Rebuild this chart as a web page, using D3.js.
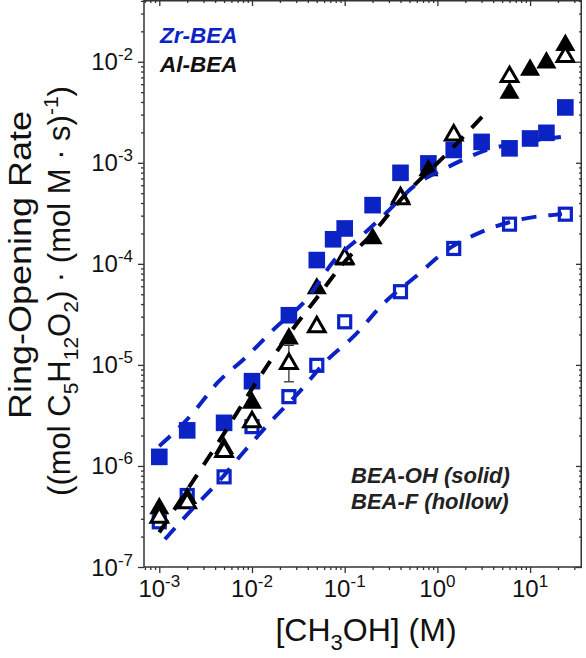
<!DOCTYPE html>
<html><head><meta charset="utf-8">
<script src="https://cdn.jsdelivr.net/npm/d3@7"></script>
<style>html,body{margin:0;padding:0;background:#fff}svg{display:block}text{font-family:"Liberation Sans",Arial,sans-serif}</style>
</head><body><div id="chart"></div>
<script>
// ---- data ----
const xMajorTicks = [1e-3, 1e-2, 1e-1, 1, 10];
const xTickExps = ["-3", "-2", "-1", "0", "1"];
const yMajorTicks = [1e-7, 1e-6, 1e-5, 1e-4, 1e-3, 1e-2];
const yTickExps = ["-7", "-6", "-5", "-4", "-3", "-2"];

// Zr-BEA, BEA-OH (solid squares)
const zrOH_x = [0.001, 0.002, 0.005, 0.01, 0.025, 0.05, 0.075, 0.1, 0.2, 0.4, 0.8, 1.5, 3, 6, 10, 15, 24];
const zrOH_y = [1.23e-6, 2.25e-6, 2.67e-6, 6.9e-6, 3.1e-5, 1.09e-4, 1.75e-4, 2.24e-4, 3.81e-4, 7.96e-4, 9.86e-4, 1.34e-3, 1.61e-3, 1.39e-3, 1.74e-3, 1.98e-3, 3.53e-3];
// Zr-BEA, BEA-F (hollow squares)
const zrF_x = [0.001, 0.002, 0.005, 0.01, 0.025, 0.05, 0.1, 0.4, 1.5, 6, 24];
const zrF_y = [2.8e-7, 5.1e-7, 7.8e-7, 2.45e-6, 4.85e-6, 9.9e-6, 2.67e-5, 5.3e-5, 1.42e-4, 2.47e-4, 3.1e-4];
// Al-BEA, BEA-OH (solid triangles)
const alOH_x = [0.001, 0.002, 0.005, 0.01, 0.025, 0.05, 0.1, 0.2, 0.4, 0.8, 6, 10, 15, 24];
const alOH_y = [3.8e-7, 4.8e-7, 1.5e-6, 4.2e-6, 1.82e-5, 5.7e-5, 1.1e-4, 1.78e-4, 4.6e-4, 8.4e-4, 4.9e-3, 8.3e-3, 9.8e-3, 1.46e-2];
// Al-BEA, BEA-F (hollow triangles)
const alF_x = [0.001, 0.002, 0.005, 0.01, 0.025, 0.05, 0.1, 0.4, 1.5, 6, 24];
const alF_y = [3.1e-7, 4.3e-7, 1.38e-6, 2.73e-6, 1.03e-5, 2.38e-5, 1.13e-4, 4.4e-4, 1.88e-3, 7.1e-3, 1.12e-2];
const alF_errLow = [null, null, null, null, 6.8e-6, null, null, null, null, null, null];
const alF_errHigh = [null, null, null, null, 1.56e-5, null, null, null, null, null, null];

// fitted curves (dashed)
const fitZrOH_x = [0.001, 0.0022, 0.0043, 0.0086, 0.0177, 0.0373, 0.0826, 0.135, 0.272, 0.575, 1.3, 3.43, 7.4, 21.5];
const fitZrOH_y = [1.57e-6, 3.18e-6, 6.74e-6, 1.19e-5, 2.31e-5, 4.27e-5, 1.16e-4, 1.72e-4, 3.1e-4, 6.0e-4, 9.07e-4, 1.34e-3, 1.57e-3, 1.8e-3];
const fitZrF_x = [0.00115, 0.0022, 0.0043, 0.00845, 0.0164, 0.033, 0.0612, 0.129, 0.272, 0.575, 1.27, 2.95, 8.18, 22.1];
const fitZrF_y = [1.88e-7, 3.64e-7, 6.9e-7, 1.43e-6, 2.83e-6, 5.5e-6, 1.06e-5, 1.97e-5, 4.18e-5, 7.4e-5, 1.37e-4, 2.06e-4, 2.77e-4, 3.1e-4];
const fitAl_x = [0.001, 0.002, 0.005, 0.01, 0.025, 0.05, 0.1, 0.2, 0.4, 1.4, 3.2];
const fitAl_y = [2.2e-7, 5.8e-7, 2.1e-6, 5.8e-6, 2.0e-5, 4.6e-5, 1.05e-4, 2.0e-4, 4.3e-4, 1.35e-3, 3.0e-3];

const legendLabels = ["Zr-BEA", "Al-BEA"];
const noteLabels = ["BEA-OH (solid)", "BEA-F (hollow)"];

// ---- drawing ----
const W = 586, H = 658;
const blue = "#0b22c4";
const axisColor = "#333";
const L = 144, R = 582, T = 0, B = 567;

const svg = d3.select("#chart").append("svg").attr("width", W).attr("height", H);

const x = d3.scaleLog().domain([Math.pow(10, -3.165), Math.pow(10, 1.56)]).range([L, R]);
const y = d3.scaleLog().domain([1e-7, Math.pow(10, -1.389)]).range([B, T]);

function minorTicks(lo, hi) {
  const out = [];
  for (let e = Math.floor(Math.log10(lo)) - 1; e <= Math.ceil(Math.log10(hi)); e++) {
    for (let m = 2; m <= 9; m++) {
      const v = m * Math.pow(10, e);
      if (v >= lo && v <= hi) out.push(v);
    }
  }
  return out;
}
const [xlo, xhi] = x.domain();
const [ylo, yhi] = y.domain();
const xMinor = minorTicks(xlo, xhi);
const yMinor = minorTicks(ylo, yhi);

svg.append("g").attr("transform", `translate(0,${B})`)
  .call(d3.axisBottom(x).tickValues(xMajorTicks).tickSize(6).tickFormat(""));
svg.append("g").attr("transform", `translate(0,${B})`)
  .call(d3.axisBottom(x).tickValues(xMinor).tickSize(3).tickFormat(""));
svg.append("g").attr("transform", `translate(0,${T})`)
  .call(d3.axisBottom(x).tickValues(xMajorTicks).tickSize(6).tickFormat(""));
svg.append("g").attr("transform", `translate(0,${T})`)
  .call(d3.axisBottom(x).tickValues(xMinor).tickSize(3).tickFormat(""));
svg.append("g").attr("transform", `translate(${L},0)`)
  .call(d3.axisLeft(y).tickValues(yMajorTicks).tickSize(6).tickFormat(""));
svg.append("g").attr("transform", `translate(${L},0)`)
  .call(d3.axisLeft(y).tickValues(yMinor).tickSize(3).tickFormat(""));
svg.append("g").attr("transform", `translate(${R},0)`)
  .call(d3.axisLeft(y).tickValues(yMajorTicks).tickSize(6).tickFormat(""));
svg.append("g").attr("transform", `translate(${R},0)`)
  .call(d3.axisLeft(y).tickValues(yMinor).tickSize(3).tickFormat(""));

svg.selectAll(".domain").remove();
svg.selectAll(".tick line").attr("stroke", axisColor).attr("stroke-width", 1.3);

svg.append("rect").attr("x", L).attr("y", T + 0.75).attr("width", R - L - 0.75).attr("height", B - T - 0.75)
  .attr("fill", "none").attr("stroke", axisColor).attr("stroke-width", 1.5);

// tick labels
const xl = svg.append("g").attr("font-size", 24).attr("fill", "#111");
xMajorTicks.forEach((v, i) => {
  const t = xl.append("text").attr("x", x(v)).attr("y", 597).attr("text-anchor", "middle");
  t.append("tspan").text("10");
  t.append("tspan").attr("dy", -10).attr("font-size", 17).text(xTickExps[i]);
});
const yl = svg.append("g").attr("font-size", 24).attr("fill", "#111");
yMajorTicks.forEach((v, i) => {
  const t = yl.append("text").attr("x", 133).attr("y", y(v) + 8.5).attr("text-anchor", "end");
  t.append("tspan").text("10");
  t.append("tspan").attr("dy", -10).attr("font-size", 17).text(yTickExps[i]);
});

// axis titles
const xt = svg.append("text").attr("x", 366).attr("y", 641).attr("text-anchor", "middle")
  .attr("font-size", 32).attr("fill", "#111");
xt.append("tspan").text("[CH");
xt.append("tspan").attr("dy", 9).attr("font-size", 22).text("3");
xt.append("tspan").attr("dy", -9).text("OH] (M)");

svg.append("text").attr("transform", "translate(31,265) rotate(-90)")
  .attr("text-anchor", "middle").attr("font-size", 32).attr("fill", "#111")
  .attr("textLength", 308).attr("lengthAdjust", "spacingAndGlyphs").text("Ring-Opening Rate");
const yt2 = svg.append("text").attr("transform", "translate(70,291) rotate(-90)")
  .attr("text-anchor", "middle").attr("font-size", 31).attr("fill", "#111");
yt2.append("tspan").text("((mol C");
yt2.append("tspan").attr("dy", 8).attr("font-size", 21).text("5");
yt2.append("tspan").attr("dy", -8).text("H");
yt2.append("tspan").attr("dy", 8).attr("font-size", 21).text("12");
yt2.append("tspan").attr("dy", -8).text("O");
yt2.append("tspan").attr("dy", 8).attr("font-size", 21).text("2");
yt2.append("tspan").attr("dy", -8).text(") \u00B7 (mol M \u00B7 s)");
yt2.append("tspan").attr("dy", -12).attr("font-size", 21).text("-1");
yt2.append("tspan").attr("dy", 12).text(")");

// legend / notes
svg.append("text").attr("x", 160).attr("y", 43).attr("font-size", 22.5).attr("font-weight", "bold")
  .attr("font-style", "italic").attr("fill", blue).text(legendLabels[0]);
svg.append("text").attr("x", 160).attr("y", 72).attr("font-size", 22.5).attr("font-weight", "bold")
  .attr("font-style", "italic").attr("fill", "#111").text(legendLabels[1]);
svg.append("text").attr("x", 351).attr("y", 483).attr("font-size", 22).attr("font-weight", "bold")
  .attr("font-style", "italic").attr("fill", "#222").text(noteLabels[0]);
svg.append("text").attr("x", 351).attr("y", 509).attr("font-size", 22).attr("font-weight", "bold")
  .attr("font-style", "italic").attr("fill", "#222").text(noteLabels[1]);

// markers
const pts = (xs, ys) => xs.map((v, i) => ({x: v, y: ys[i], i}));
const g = svg.append("g");
g.selectAll(".sqf").data(pts(zrOH_x, zrOH_y)).join("rect")
  .attr("x", d => x(d.x) - 8.3).attr("y", d => y(d.y) - 8.3).attr("width", 16.6).attr("height", 16.6)
  .attr("fill", blue);
g.selectAll(".sqh").data(pts(zrF_x, zrF_y)).join("rect")
  .attr("x", d => x(d.x) - 6).attr("y", d => y(d.y) - 6).attr("width", 12).attr("height", 12)
  .attr("fill", "#fff").attr("stroke", blue).attr("stroke-width", 3.2);

// error bar
const eb = pts(alF_x, alF_y).filter(d => alF_errLow[d.i] != null);
eb.forEach(d => {
  const cx = x(d.x);
  svg.append("line").attr("x1", cx).attr("x2", cx).attr("y1", y(alF_errLow[d.i])).attr("y2", y(alF_errHigh[d.i]))
    .attr("stroke", "#333").attr("stroke-width", 1.3);
  [alF_errLow[d.i], alF_errHigh[d.i]].forEach(v => {
    svg.append("line").attr("x1", cx - 5).attr("x2", cx + 5).attr("y1", y(v)).attr("y2", y(v))
      .attr("stroke", "#333").attr("stroke-width", 1.3);
  });
});

const triF = d3.symbol().type(d3.symbolTriangle).size(175);
const triH = d3.symbol().type(d3.symbolTriangle).size(120);
svg.append("g").selectAll("path").data(pts(alOH_x, alOH_y)).join("path")
  .attr("d", triF).attr("transform", d => `translate(${x(d.x)},${y(d.y)})`).attr("fill", "#000");
svg.append("g").selectAll("path").data(pts(alF_x, alF_y)).join("path")
  .attr("d", triH).attr("transform", d => `translate(${x(d.x)},${y(d.y)})`)
  .attr("fill", "#fff").attr("stroke", "#000").attr("stroke-width", 3);

// dashed fits
const line = d3.line().x(d => x(d.x)).y(d => y(d.y)).curve(d3.curveMonotoneX);
const dash = "15,12";
svg.append("path").attr("d", line(pts(fitZrOH_x, fitZrOH_y))).attr("fill", "none")
  .attr("stroke", blue).attr("stroke-width", 4).attr("stroke-dasharray", dash);
svg.append("path").attr("d", line(pts(fitZrF_x, fitZrF_y))).attr("fill", "none")
  .attr("stroke", blue).attr("stroke-width", 4).attr("stroke-dasharray", dash);
svg.append("path").attr("d", line(pts(fitAl_x, fitAl_y))).attr("fill", "none")
  .attr("stroke", "#000").attr("stroke-width", 4).attr("stroke-dasharray", dash);
</script></body></html>
